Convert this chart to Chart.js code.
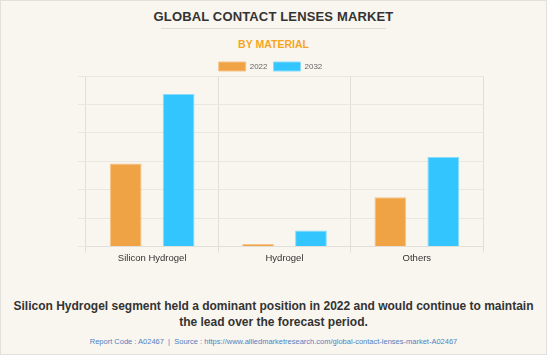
<!DOCTYPE html>
<html>
<head>
<meta charset="utf-8">
<script src="https://cdn.jsdelivr.net/npm/chart.js@4"></script>
<style>
  html, body { margin: 0; padding: 0; }
  body { width: 547px; height: 355px; position: relative; overflow: hidden; background: #F9F6EF; font-family: "Liberation Sans", Arial, sans-serif; }
  #frame { position: absolute; left: 0; top: 0; width: 545px; height: 353px; border: 1px solid #E2E0DC; }
  #title { position: absolute; left: 0; width: 547px; top: 9px; text-align: center; font-weight: bold; font-size: 13px; color: #333; letter-spacing: 0.15px; }
  #rule { position: absolute; left: 161px; width: 225px; top: 28px; height: 1px; background: #DDDAD4; }
  #subtitle { position: absolute; left: 0; width: 547px; top: 38px; text-align: center; font-weight: bold; font-size: 10.5px; color: #F7A51F; }
  #chartWrap { position: absolute; left: 0; top: 0; width: 547px; height: 264px; }
  #note { position: absolute; left: 0; width: 547px; top: 298px; text-align: center; font-weight: bold; font-size: 12px; line-height: 16px; color: #333; }
  #source { position: absolute; left: 0; width: 547px; top: 336.5px; text-align: center; font-size: 7.5px; color: #4F82C4; }
</style>
</head>
<body>
<div id="frame"></div>
<div id="title">GLOBAL CONTACT LENSES MARKET</div>
<div id="rule"></div>
<div id="subtitle">BY MATERIAL</div>
<div id="chartWrap"><canvas id="c" width="547" height="264"></canvas></div>
<div id="note">Silicon Hydrogel segment held a dominant position in 2022 and would continue to maintain<br>the lead over the forecast period.</div>
<div id="source">Report Code : A02467 &nbsp;|&nbsp; Source : https://www.alliedmarketresearch.com/global-contact-lenses-market-A02467</div>
<script>
const categories = ["Silicon Hydrogel", "Hydrogel", "Others"];
const seriesLabels = ["2022", "2032"];
const values2022 = [2.92, 0.09, 1.74];
const values2032 = [5.37, 0.565, 3.15];
const yMax = 6;
const yStep = 1;

const legendTrim = {
  id: 'legendTrim',
  beforeUpdate(chart) {
    const lg = chart.legend;
    if (lg && !lg._trimmed) {
      const orig = lg.fit;
      lg.fit = function () { orig.call(this); this.height -= 5; };
      lg._trimmed = true;
    }
  }
};

new Chart(document.getElementById('c'), {
  type: 'bar',
  data: {
    labels: categories,
    datasets: [
      { label: seriesLabels[0], data: values2022, backgroundColor: '#F0A345', borderColor: '#F5C48A', borderWidth: 1, categoryPercentage: 0.8, barPercentage: 0.6 },
      { label: seriesLabels[1], data: values2032, backgroundColor: '#33C5FE', borderColor: '#8ADCFC', borderWidth: 1, categoryPercentage: 0.8, barPercentage: 0.6 }
    ]
  },
  plugins: [legendTrim],
  options: {
    responsive: false,
    animation: false,
    maintainAspectRatio: false,
    layout: { padding: { left: 58, right: 64, top: 56, bottom: 0 } },
    plugins: {
      legend: {
        display: true,
        position: 'top',
        labels: { boxWidth: 27, boxHeight: 9, padding: 6, color: '#666', font: { family: 'Liberation Sans', size: 8 } }
      },
      tooltip: { enabled: false },
      title: { display: false }
    },
    scales: {
      x: {
        grid: {
          offset: true,
          color: (ctx) => ctx.index === categories.length ? 'rgba(0,0,0,0)' : '#E2DFD8',
          tickLength: 6
        },
        border: { color: '#E2DFD8' },
        ticks: { color: '#333', font: { family: 'Liberation Sans', size: 9.5 }, padding: 0 }
      },
      y: {
        min: 0, max: yMax,
        ticks: { display: false, stepSize: yStep },
        grid: { color: '#EAE7E0', tickLength: 8 },
        border: { display: false },
        afterFit: (scale) => { scale.width = 28; }
      }
    }
  }
});
</script>
</body>
</html>
